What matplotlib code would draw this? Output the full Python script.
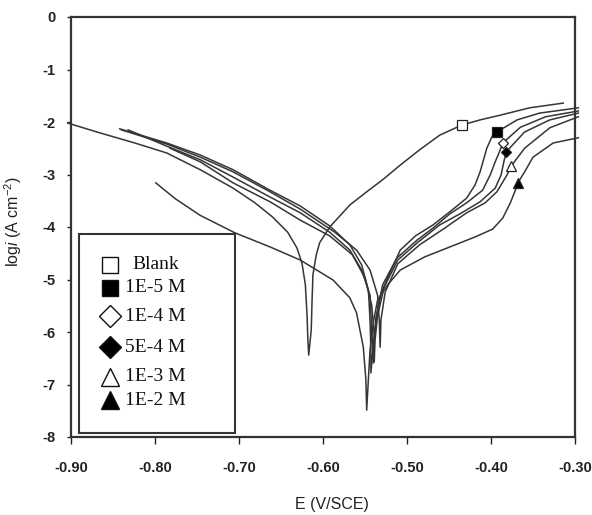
import numpy as np
import matplotlib.pyplot as plt
from matplotlib.patches import Rectangle

plt.rcParams['font.family'] = ['Liberation Sans', 'DejaVu Sans']
plt.rcParams['mathtext.fontset'] = 'custom'
plt.rcParams['mathtext.rm'] = 'Liberation Sans'
plt.rcParams['mathtext.it'] = 'Liberation Sans:italic'

# Polarisation curves: potential E (V/SCE) and log i (A cm-2)
e_blank = [-0.904, -0.865, -0.824, -0.786, -0.746, -0.707, -0.681, -0.660, -0.642, -0.631,
           -0.625, -0.621, -0.619, -0.618, -0.617,
           -0.614, -0.613, -0.612, -0.608, -0.604, -0.592, -0.568, -0.548, -0.529, -0.508,
           -0.485, -0.461, -0.435, -0.413, -0.389, -0.354, -0.314]
logi_blank = [-2.02, -2.21, -2.40, -2.59, -2.91, -3.26, -3.54, -3.81, -4.10, -4.40,
              -4.69, -5.10, -5.68, -6.15, -6.44,
              -5.96, -5.39, -4.91, -4.53, -4.30, -4.00, -3.58, -3.33, -3.10, -2.82,
              -2.53, -2.25, -2.06, -1.96, -1.87, -1.73, -1.64]

e_1e5 = [-0.842, -0.786, -0.746, -0.707, -0.663, -0.627, -0.592, -0.568, -0.554, -0.546,
         -0.544, -0.543, -0.543,
         -0.540, -0.537, -0.531, -0.520, -0.508, -0.490, -0.469, -0.449, -0.429, -0.419,
         -0.413, -0.405, -0.398, -0.393, -0.369, -0.342, -0.296]
logi_1e5 = [-2.13, -2.40, -2.63, -2.91, -3.30, -3.60, -3.98, -4.34, -4.72, -5.20,
            -5.77, -6.34, -6.78,
            -6.25, -5.73, -5.26, -4.86, -4.44, -4.17, -3.96, -3.71, -3.45, -3.20,
            -2.95, -2.50, -2.25, -2.19, -1.96, -1.83, -1.73]

e_1e4 = [-0.832, -0.786, -0.746, -0.707, -0.663, -0.627, -0.592, -0.568, -0.554, -0.544,
         -0.542, -0.540,
         -0.539, -0.536, -0.529, -0.512, -0.488, -0.469, -0.449, -0.429, -0.410, -0.401,
         -0.395, -0.390, -0.386, -0.365, -0.335, -0.296]
logi_1e4 = [-2.15, -2.46, -2.72, -3.05, -3.43, -3.73, -4.10, -4.44, -4.82, -5.30,
            -5.96, -6.59,
            -6.15, -5.68, -5.10, -4.59, -4.25, -4.02, -3.75, -3.54, -3.30, -3.01,
            -2.76, -2.57, -2.40, -2.10, -1.90, -1.79]

e_5e4 = [-0.782, -0.746, -0.707, -0.663, -0.627, -0.592, -0.565, -0.550, -0.542, -0.539,
         -0.539,
         -0.538, -0.535, -0.527, -0.511, -0.487, -0.461, -0.437, -0.413, -0.395, -0.388,
         -0.385, -0.382, -0.360, -0.330, -0.296]
logi_5e4 = [-2.50, -2.76, -3.16, -3.52, -3.87, -4.17, -4.53, -4.97, -5.49, -6.06,
            -6.57,
            -6.15, -5.68, -5.14, -4.63, -4.29, -3.96, -3.75, -3.52, -3.26, -3.01,
            -2.78, -2.57, -2.19, -1.96, -1.83]

e_1e3 = [-0.840, -0.786, -0.746, -0.707, -0.663, -0.627, -0.586, -0.560, -0.544, -0.535,
         -0.533, -0.532,
         -0.531, -0.526, -0.511, -0.485, -0.455, -0.429, -0.407, -0.393, -0.381, -0.376,
         -0.360, -0.330, -0.296]
logi_1e3 = [-2.15, -2.42, -2.67, -2.95, -3.33, -3.66, -4.10, -4.44, -4.82, -5.30,
            -5.77, -6.29,
            -5.77, -5.24, -4.70, -4.34, -4.02, -3.73, -3.54, -3.33, -3.01, -2.84,
            -2.50, -2.11, -1.90]

e_1e2 = [-0.799, -0.776, -0.746, -0.705, -0.663, -0.627, -0.588, -0.568, -0.560, -0.552,
         -0.549, -0.548,
         -0.546, -0.544, -0.540, -0.535, -0.523, -0.508, -0.479, -0.449, -0.419, -0.398,
         -0.386, -0.377, -0.371, -0.368, -0.360, -0.350, -0.326, -0.296]
logi_1e2 = [-3.16, -3.46, -3.78, -4.11, -4.38, -4.63, -5.01, -5.35, -5.64, -6.29,
            -6.90, -7.49,
            -6.91, -6.34, -5.81, -5.39, -5.10, -4.82, -4.57, -4.38, -4.19, -4.04,
            -3.83, -3.54, -3.30, -3.16, -2.95, -2.67, -2.40, -2.30]

labels = ['Blank', '1E-5 M', '1E-4 M', '5E-4 M', '1E-3 M', '1E-2 M']
# potential at which each curve carries its symbol
mark_e = [-0.435, -0.393, -0.386, -0.382, -0.376, -0.368]

curves = [(e_blank, logi_blank), (e_1e5, logi_1e5), (e_1e4, logi_1e4),
          (e_5e4, logi_5e4), (e_1e3, logi_1e3), (e_1e2, logi_1e2)]
markers = ['s', 's', 'D', 'D', '^', '^']
faces = ['white', 'black', 'white', 'black', 'white', 'black']
msizes = [6.5, 7.5, 5.5, 5.5, 7, 7]

line_col = '#353535'

fig = plt.figure(figsize=(5.92, 5.15), dpi=100)
ax = fig.add_axes([71 / 592, 1 - 437 / 515, 504 / 592, 420 / 515])

for (e, li), m, fc, ms, me in zip(curves, markers, faces, msizes, mark_e):
    e = np.array(e)
    li = np.array(li)
    idx = int(np.argmin(np.abs(e - me)))
    ax.plot(e, li, color=line_col, lw=1.1, solid_joinstyle='round', clip_on=False,
            marker=m, markevery=[idx], ms=ms, mfc=fc, mec='#222222', mew=0.9, zorder=3)

ax.set_xlim(-0.90, -0.30)
ax.set_ylim(-8, 0)
ax.set_xticks(np.arange(-0.9, -0.29, 0.1))
ax.set_xticklabels([f'{v:.2f}' for v in np.arange(-0.9, -0.29, 0.1)])
ax.set_yticks(range(-8, 1))
ax.set_yticklabels([str(v) for v in range(-8, 1)])

for lab in ax.get_xticklabels() + ax.get_yticklabels():
    lab.set_fontweight('bold')
    lab.set_fontsize(10.5)
ax.tick_params(axis='x', direction='out', length=5, width=1, pad=12, colors='#222222')
ax.tick_params(axis='y', direction='out', length=3, width=1, pad=8, colors='#222222')
for s in ax.spines.values():
    s.set_linewidth(1.6)
    s.set_color('#333333')

ax.set_xlabel('E (V/SCE)', fontsize=11.5, color='#222222')
ax.set_ylabel(r'log$i$ (A cm$^{-2}$)', fontsize=11.5, color='#222222')
ax.xaxis.set_label_coords(0.518, -0.143)
ax.yaxis.set_label_coords(-0.093, 0.514)

# legend box with hand-placed rows
ax.add_patch(Rectangle((0.016, 0.0095), 0.309, 0.4735, transform=ax.transAxes,
                       facecolor='white', edgecolor='#333333', lw=1.5, zorder=5))
row_y = [0.410, 0.355, 0.288, 0.214, 0.143, 0.088]
leg_sizes = [12, 12, 11.5, 11.5, 13, 13]
for lab, m, fc, ms, y in zip(labels, markers, faces, leg_sizes, row_y):
    ax.plot([0.077], [y], transform=ax.transAxes, ls='none', marker=m, ms=ms,
            mfc=fc, mec='#111111', mew=1.0, clip_on=False, zorder=6)
    ax.text(0.108 if lab != 'Blank' else 0.122, y, lab, transform=ax.transAxes,
            va='center', ha='left', fontsize=14, family='Liberation Serif',
            color='#111111', zorder=6)

fig.savefig('out.png', dpi=100)
